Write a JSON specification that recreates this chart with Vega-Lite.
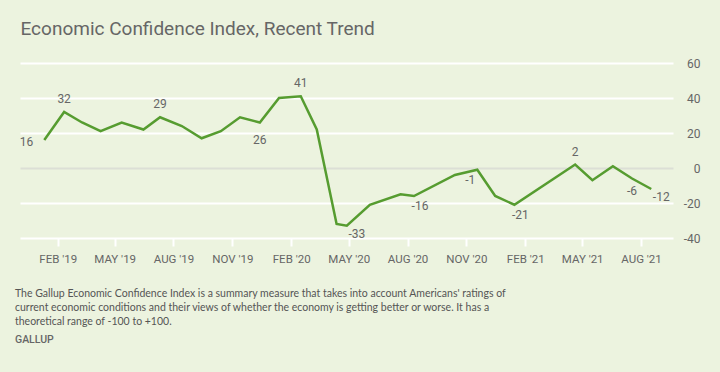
{
  "$schema": "https://vega.github.io/schema/vega-lite/v6.json",
  "width": 653,
  "height": 175,
  "padding": {"left": 15, "top": 19, "right": 20, "bottom": 27},
  "background": "#ecf3df",
  "config": {"view": {"stroke": null}, "font": "Roboto"},
  "title": {
    "text": [
      "The Gallup Economic Confidence Index is a summary measure that takes into account Americans' ratings of",
      "current economic conditions and their views of whether the economy is getting better or worse. It has a",
      "theoretical range of -100 to +100."
    ],
    "subtitle": "GALLUP",
    "orient": "bottom",
    "anchor": "start",
    "frame": "group",
    "dx": -5,
    "offset": 24,
    "font": "Lato",
    "fontSize": 10.5,
    "fontWeight": "normal",
    "color": "#555555",
    "lineHeight": 14,
    "subtitleFont": "Roboto",
    "subtitleFontSize": 10.5,
    "subtitleFontWeight": 500,
    "subtitleColor": "#666666",
    "subtitlePadding": 8
  },
  "data": {
    "values": [
      {"date": "2019-01-11T00:00", "v": 16, "lab": true},
      {"date": "2019-02-11T00:00", "v": 32, "lab": true},
      {"date": "2019-03-11T00:00", "v": 26, "lab": false},
      {"date": "2019-04-09T00:00", "v": 21, "lab": false},
      {"date": "2019-05-12T00:00", "v": 26, "lab": false},
      {"date": "2019-06-15T00:00", "v": 22, "lab": false},
      {"date": "2019-07-11T00:00", "v": 29, "lab": true},
      {"date": "2019-08-14T00:00", "v": 24, "lab": false},
      {"date": "2019-09-14T00:00", "v": 17, "lab": false},
      {"date": "2019-10-14T00:00", "v": 21, "lab": false},
      {"date": "2019-11-13T00:00", "v": 29, "lab": false},
      {"date": "2019-12-14T00:00", "v": 26, "lab": true},
      {"date": "2020-01-13T00:00", "v": 40, "lab": false},
      {"date": "2020-02-16T00:00", "v": 41, "lab": true},
      {"date": "2020-03-12T00:00", "v": 22, "lab": false},
      {"date": "2020-04-12T00:00", "v": -32, "lab": false},
      {"date": "2020-04-28T00:00", "v": -33, "lab": true},
      {"date": "2020-06-03T00:00", "v": -21, "lab": false},
      {"date": "2020-07-21T00:00", "v": -15, "lab": false},
      {"date": "2020-08-11T00:00", "v": -16, "lab": true},
      {"date": "2020-10-14T00:00", "v": -4, "lab": false},
      {"date": "2020-11-18T00:00", "v": -1, "lab": true},
      {"date": "2020-12-16T00:00", "v": -16, "lab": false},
      {"date": "2021-01-15T00:00", "v": -21, "lab": true},
      {"date": "2021-04-20T00:00", "v": 2, "lab": true},
      {"date": "2021-05-17T00:00", "v": -7, "lab": false},
      {"date": "2021-06-18T00:00", "v": 1, "lab": false},
      {"date": "2021-07-18T00:00", "v": -6, "lab": true},
      {"date": "2021-08-17T00:00", "v": -12, "lab": true}
    ]
  },
  "encoding": {
    "y": {
      "field": "v", "type": "quantitative",
      "scale": {"domain": [-40, 60], "nice": false, "zero": false},
      "axis": {
        "orient": "right",
        "title": null,
        "domain": false,
        "ticks": false,
        "values": [-40, -20, 0, 20, 40, 60],
        "labelOverlap": false,
        "grid": true,
        "gridWidth": 2,
        "gridColor": {"condition": {"test": "datum.value === 0", "value": "#dcdfd6"}, "value": "#ffffff"},
        "labelAlign": "right",
        "labelPadding": 27,
        "labelColor": "#666666",
        "labelFontSize": 12,
        "labelExpr": "'' + datum.value"
      }
    }
  },
  "resolve": {"axis": {"x": "independent"}},
  "layer": [
    {
      "mark": {"type": "line", "color": "#569c30", "strokeWidth": 2.5, "strokeJoin": "miter"},
      "encoding": {
        "x": {
          "field": "date", "type": "temporal",
          "scale": {"domain": [{"year": 2018, "month": 12, "date": 4}, {"year": 2021, "month": 9, "date": 20}]},
          "axis": {
            "orient": "bottom",
            "title": null,
            "grid": false,
            "domain": false,
            "ticks": true,
            "tickColor": "white",
            "tickWidth": 2,
            "tickSize": 8,
            "labelColor": "#666666",
            "labelFontSize": 11.5,
            "labelPadding": 7,
            "values": [
              {"year": 2019, "month": 2, "date": 1},
              {"year": 2019, "month": 5, "date": 1},
              {"year": 2019, "month": 8, "date": 1},
              {"year": 2019, "month": 11, "date": 1},
              {"year": 2020, "month": 2, "date": 1},
              {"year": 2020, "month": 5, "date": 1},
              {"year": 2020, "month": 8, "date": 1},
              {"year": 2020, "month": 11, "date": 1},
              {"year": 2021, "month": 2, "date": 1},
              {"year": 2021, "month": 5, "date": 1},
              {"year": 2021, "month": 8, "date": 1}
            ],
            "labelExpr": "upper(timeFormat(datum.value, \"%b '%y\"))"
          }
        }
      }
    },
    {
      "transform": [{"filter": "datum.lab && indexof([32, 29, 41, 2], datum.v) >= 0"}],
      "mark": {"type": "text", "dy": -13, "fontSize": 12, "color": "#666666"},
      "encoding": {
        "x": {
          "field": "date", "type": "temporal",
          "axis": {
            "orient": "top",
            "labels": false,
            "ticks": false,
            "domain": false,
            "grid": false,
            "title": "Economic Confidence Index, Recent Trend",
            "titleAnchor": "start",
            "titleAlign": "left",
            "titleFontSize": 19,
            "titleFontWeight": "normal",
            "titleColor": "#666666",
            "titleBaseline": "alphabetic",
            "titlePadding": 29
          }
        },
        "text": {"field": "v", "type": "nominal"}
      }
    },
    {
      "transform": [{"filter": "datum.lab && datum.v == 26"}],
      "mark": {"type": "text", "dy": 17, "fontSize": 12, "color": "#666666"},
      "encoding": {
        "x": {"field": "date", "type": "temporal", "axis": null},
        "text": {"field": "v", "type": "nominal"}
      }
    },
    {
      "transform": [{"filter": "datum.lab && datum.v == 16"}],
      "mark": {"type": "text", "dx": -11, "dy": 2, "align": "right", "fontSize": 12, "color": "#666666"},
      "encoding": {
        "x": {"field": "date", "type": "temporal", "axis": null},
        "text": {"field": "v", "type": "nominal"}
      }
    },
    {
      "transform": [{"filter": "datum.lab && indexof([-33, -12], datum.v) >= 0"}],
      "mark": {"type": "text", "dx": 10, "dy": 8, "fontSize": 12, "color": "#666666"},
      "encoding": {
        "x": {"field": "date", "type": "temporal", "axis": null},
        "text": {"field": "v", "type": "nominal"}
      }
    },
    {
      "transform": [{"filter": "datum.lab && indexof([-16, -21], datum.v) >= 0"}],
      "mark": {"type": "text", "dx": 6, "dy": 10, "fontSize": 12, "color": "#666666"},
      "encoding": {
        "x": {"field": "date", "type": "temporal", "axis": null},
        "text": {"field": "v", "type": "nominal"}
      }
    },
    {
      "transform": [{"filter": "datum.lab && datum.v == -1"}],
      "mark": {"type": "text", "dx": -7, "dy": 10, "fontSize": 12, "color": "#666666"},
      "encoding": {
        "x": {"field": "date", "type": "temporal", "axis": null},
        "text": {"field": "v", "type": "nominal"}
      }
    },
    {
      "transform": [{"filter": "datum.lab && datum.v == -6"}],
      "mark": {"type": "text", "dy": 12, "fontSize": 12, "color": "#666666"},
      "encoding": {
        "x": {"field": "date", "type": "temporal", "axis": null},
        "text": {"field": "v", "type": "nominal"}
      }
    }
  ]
}
